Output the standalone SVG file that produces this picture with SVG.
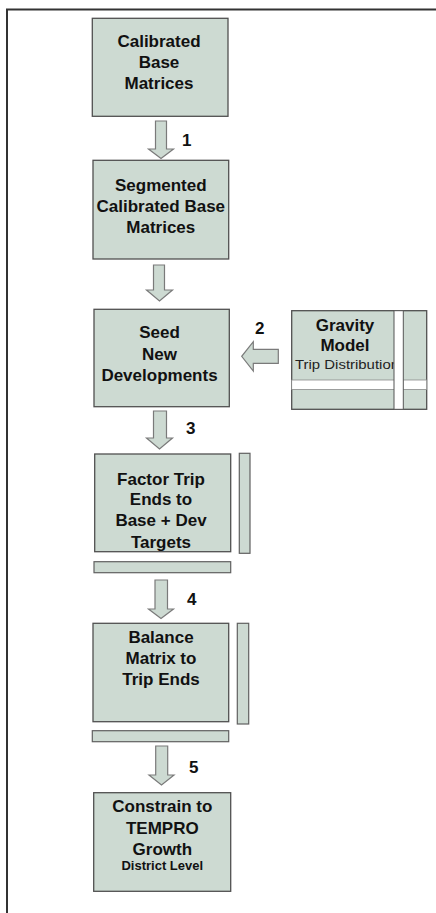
<svg xmlns="http://www.w3.org/2000/svg" width="436" height="913" viewBox="0 0 436 913">
<style>
.box{fill:#cddad2;stroke:#505050;stroke-width:1.3}
.bar{fill:#cddad2;stroke:#606060;stroke-width:1.2}
.arr{fill:#cddad2;stroke:#7a7a7a;stroke-width:1.2;stroke-linejoin:miter}
.t{font-family:"Liberation Sans",Arial,sans-serif;font-weight:bold;font-size:17px;fill:#111;text-anchor:middle}
.s{font-family:"Liberation Sans",Arial,sans-serif;font-weight:bold;font-size:13px;fill:#111;text-anchor:middle}
.r{font-family:"Liberation Sans",Arial,sans-serif;font-size:12.5px;fill:#222}
.n{font-family:"Liberation Sans",Arial,sans-serif;font-weight:bold;font-size:17px;fill:#111}
.stripe{fill:#ffffff;stroke:#555;stroke-width:1}
.stripe2{fill:#ffffff;stroke:#8a8a8a;stroke-width:0.8}
</style>
<rect width="436" height="913" fill="#ffffff"/>
<path d="M7,913 V9.5 H436" fill="none" stroke="#333" stroke-width="2"/>

<g id="connectors">
<polygon class="arr" points="155.5,121 166.5,121 166.5,149 173.5,149 161,158.5 148.5,149 155.5,149"/>
<polygon class="arr" points="153.5,265 164.5,265 164.5,290 172.5,290 159.5,301 146.5,290 153.5,290"/>
<polygon class="arr" points="278.3,349.3 278.3,363.3 253.3,363.3 253.3,371 241.7,356.3 253.3,341.7 253.3,349.3"/>
<polygon class="arr" points="153.5,411 166.5,411 166.5,438 172.5,438 159.5,449 146.5,438 153.5,438"/>
<polygon class="arr" points="155,580 167.5,580 167.5,609 173.5,609 161,618.5 148.5,609 155,609"/>
<polygon class="arr" points="155.7,746 167.7,746 167.7,775 174,775 161.5,785 149,775 155.7,775"/>
<text class="n" x="182" y="145.5">1</text>
<text class="n" x="255" y="333.5">2</text>
<text class="n" x="186" y="433.5">3</text>
<text class="n" x="187" y="604.5">4</text>
<text class="n" x="189" y="773">5</text>
</g>

<g id="calibrated-base">
<rect class="box" x="92.3" y="18.3" width="135.7" height="98"/>
<text class="t" x="159" y="46.5">Calibrated</text>
<text class="t" x="159" y="68">Base</text>
<text class="t" x="159" y="89">Matrices</text>
</g>

<g id="segmented">
<rect class="box" x="93" y="160.3" width="135.7" height="98.7"/>
<text class="t" x="160.8" y="190.5">Segmented</text>
<text class="t" x="160.8" y="211.8">Calibrated Base</text>
<text class="t" x="160.8" y="233">Matrices</text>
</g>

<g id="seed">
<rect class="box" x="94" y="309.3" width="135.3" height="97.4"/>
<text class="t" x="159.5" y="338.3">Seed</text>
<text class="t" x="159.5" y="360">New</text>
<text class="t" x="159.5" y="380.5">Developments</text>
</g>

<g id="gravity">
<rect class="box" x="291.7" y="310.7" width="135" height="98.6"/>
<text class="t" x="345" y="330.5">Gravity</text>
<text class="t" x="345" y="351">Model</text>
<text class="r" x="295" y="369" textLength="104" lengthAdjust="spacingAndGlyphs">Trip Distribution</text>
<rect class="stripe2" x="291.7" y="380" width="135" height="9.5"/>
<rect class="stripe" x="394" y="310.7" width="9.3" height="98.6"/>
</g>

<g id="factor">
<rect class="box" x="94.7" y="454" width="136" height="97.7"/>
<rect class="bar" x="239.3" y="453.3" width="10.7" height="100"/>
<rect class="bar" x="94" y="561.7" width="136.7" height="11"/>
<text class="t" x="161" y="484.5">Factor Trip</text>
<text class="t" x="161" y="504.8">Ends to</text>
<text class="t" x="161" y="526">Base + Dev</text>
<text class="t" x="161" y="547.5">Targets</text>
</g>

<g id="balance">
<rect class="box" x="93" y="623.3" width="135.7" height="98.4"/>
<rect class="bar" x="237.3" y="623.3" width="11.4" height="100.7"/>
<rect class="bar" x="92.3" y="730.7" width="136.4" height="11"/>
<text class="t" x="161" y="642.7">Balance</text>
<text class="t" x="161" y="663.8">Matrix to</text>
<text class="t" x="161" y="684.8">Trip Ends</text>
</g>

<g id="constrain">
<rect class="box" x="93.7" y="792.7" width="137" height="98.6"/>
<text class="t" x="162.3" y="812">Constrain to</text>
<text class="t" x="162.3" y="833.7">TEMPRO</text>
<text class="t" x="162.3" y="854.5">Growth</text>
<text class="s" x="162.3" y="870">District Level</text>
</g>
</svg>
